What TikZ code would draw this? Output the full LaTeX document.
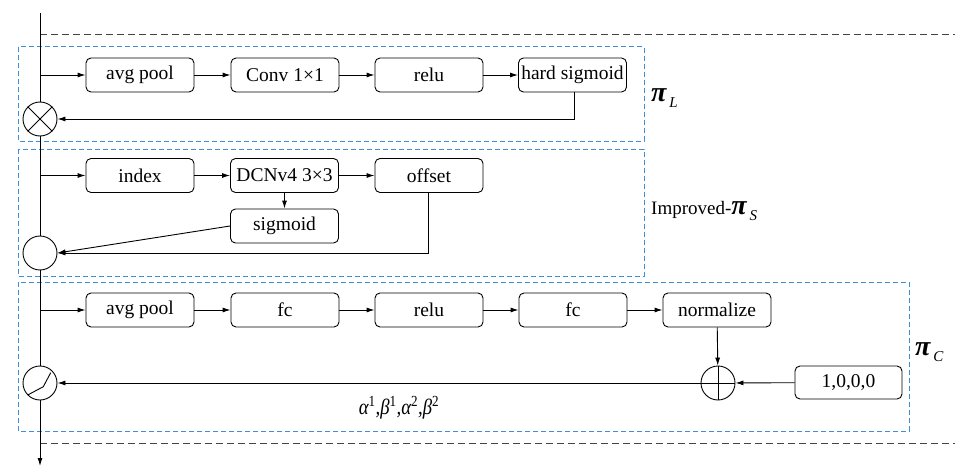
\documentclass[tikz,border=0pt]{standalone}
\usepackage{fontspec}
\setmainfont{Liberation Serif}
\usetikzlibrary{arrows.meta}
\definecolor{bluedash}{HTML}{3C8FD8}
\definecolor{graydash}{HTML}{444444}
\newcommand\pilab[1]{{\fontsize{28}{28}\selectfont\bfseries\itshape π}\hspace{3pt}\raisebox{-6pt}{\fontsize{15}{15}\selectfont\itshape #1}}
\begin{document}
\begin{tikzpicture}[x=1pt,y=-1pt,
  blk/.style={draw, rounded corners=5pt, minimum width=108pt, minimum height=34pt, inner sep=0pt, font=\fontsize{19.5}{20}\selectfont, line width=0.9pt},
  op/.style={draw, circle, minimum size=34pt, inner sep=0pt, fill=white, line width=0.9pt},
  arr/.style={-{Latex[length=8pt,width=5pt]}, line width=0.9pt},
  ln/.style={line width=0.9pt},
  grp/.style={draw=bluedash, dash pattern=on 5pt off 3pt, line width=1pt},
  sep/.style={draw=graydash, dash pattern=on 7pt off 4pt, line width=1pt},
]
\useasboundingbox (0,0) rectangle (955,468);
% groups and separators
\draw[grp] (18,47) rectangle (644,141);
\draw[grp] (18,149) rectangle (644,276);
\draw[grp] (18,282) rectangle (909,431);
\draw[sep] (40,35) -- (955,35);
\draw[sep] (40,443) -- (955,443);
% main line coordinates
\coordinate (top) at (40,13);
\coordinate (bot) at (40,466);
\coordinate (s1) at (40,75);
\coordinate (s2) at (40,175.5);
\coordinate (s3) at (40,310);
% row 1
\node[blk] (a1) at (140,75) {avg pool};
\node[blk] (a2) at (285,75) {Conv 1×1};
\node[blk] (a3) at (429,75) {relu};
\node[blk] (a4) at (572.5,75) {hard sigmoid};
% row 2
\node[blk] (b1) at (140,175.5) {index};
\node[blk] (b2) at (284.5,175.5) {DCNv4 3×3};
\node[blk] (b3) at (429,175.5) {offset};
\node[blk] (b4) at (284.5,226) {sigmoid};
% row 3
\node[blk] (c1) at (140,310) {avg pool};
\node[blk] (c2) at (285,310) {fc};
\node[blk] (c3) at (429,310) {relu};
\node[blk] (c4) at (573,310) {fc};
\node[blk] (c5) at (717,310) {normalize};
\node[blk, minimum width=107pt, minimum height=33pt] (one) at (848.5,382.5) {1,0,0,0};
% operators
\node[op] (m1) at (40,119) {};
\node[op] (m2) at (40,253) {};
\node[op] (m3) at (40,383) {};
\node[op] (plus) at (718,383) {};
\draw[ln] (m1.north west) -- (m1.south east);
\draw[ln] (m1.north east) -- (m1.south west);
\draw[ln] (plus.north) -- (plus.south);
\draw[ln] (plus.west) -- (plus.east);
\draw[ln] ([shift={(-12.3,12)}]m3.center) -- ([shift={(3.3,3.7)}]m3.center) -- ([shift={(10.7,-10.3)}]m3.center);
% main line
\draw[ln] (top) -- (m1);
\draw[ln] (m1) -- (m2);
\draw[ln] (m2) -- (m3);
\draw[arr] (m3) -- (bot);
% row 1 connectors
\draw[arr] (s1) -- (a1);
\draw[arr] (a1) -- (a2);
\draw[arr] (a2) -- (a3);
\draw[arr] (a3) -- (a4);
\coordinate (f1) at (574,119);
\draw[arr] (a4.south -| f1) -- (f1) -- (m1);
% row 2 connectors
\draw[arr] (s2) -- (b1);
\draw[arr] (b1) -- (b2);
\draw[arr] (b2) -- (b3);
\draw[arr] (b2) -- (b4);
\draw[arr] (b4.west) -- (m2.east);
\coordinate (f2) at (428,253);
\draw[arr] (b3.south -| f2) -- (f2) -- (m2);
% row 3 connectors
\draw[arr] (s3) -- (c1);
\draw[arr] (c1) -- (c2);
\draw[arr] (c2) -- (c3);
\draw[arr] (c3) -- (c4);
\draw[arr] (c4) -- (c5);
\draw[arr] (c5) -- (plus);
\draw[arr] (one) -- (plus);
\draw[arr] (plus) -- (m3);
% labels
\node[anchor=center, inner sep=0pt] (alab) at (399,408) {\scalebox{0.85}[1]{\fontsize{22}{22}\selectfont\itshape α\textsuperscript{\upshape 1},β\textsuperscript{\upshape 1},α\textsuperscript{\upshape 2},β\textsuperscript{\upshape 2}}};
\node[anchor=west, inner sep=0pt] (piL) at (651,98) {\pilab{L}};
\node[anchor=west, inner sep=0pt] (piS) at (651,211) {\fontsize{19}{19}\selectfont Improved-\pilab{S}};
\node[anchor=west, inner sep=0pt] (piC) at (915,352) {\pilab{C}};
\end{tikzpicture}
\end{document}
